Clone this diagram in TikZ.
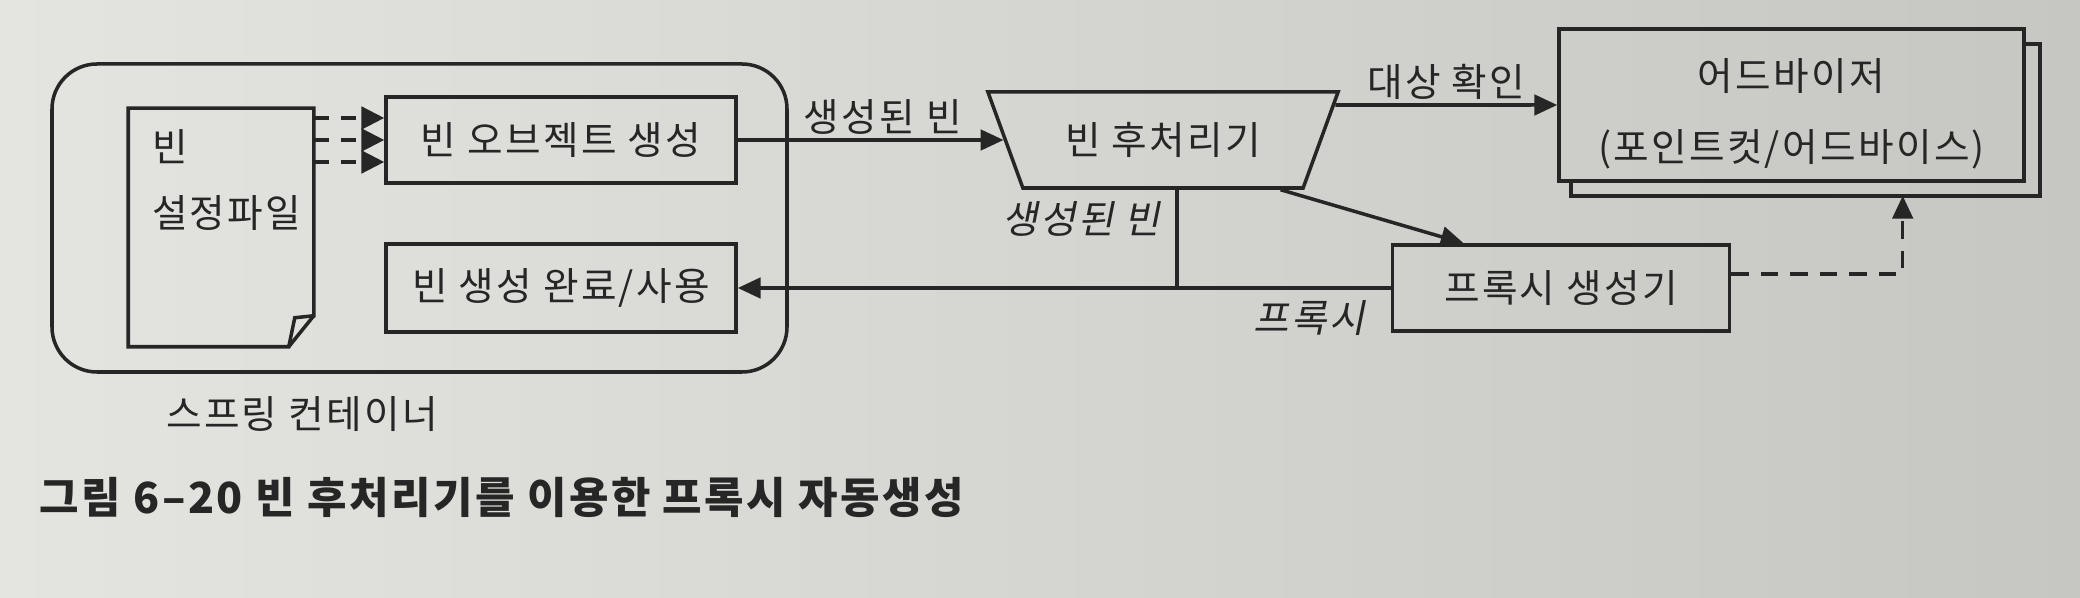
\documentclass[tikz,border=0pt]{standalone}
\usepackage{fontspec}
\setmainfont{Noto Sans CJK KR}[LetterSpace=6]
\newfontfamily\slantkr[FakeSlant=0.2,LetterSpace=6]{Noto Sans CJK KR}
\usetikzlibrary{shapes.geometric,arrows.meta,calc}
\definecolor{ink}{RGB}{38,38,38}
\definecolor{paperl}{RGB}{228,228,224}
\definecolor{paperr}{RGB}{198,198,194}

\begin{document}
\begin{tikzpicture}[
  block/.style={rectangle, draw, minimum width=3.5cm, minimum height=0.86cm},
  trap/.style={trapezium, draw, trapezium left angle=115, trapezium right angle=115,
    trapezium stretches=true, minimum width=3.51cm, minimum height=0.96cm},
  arrow/.style={-{Triangle[length=6.5pt,width=5.8pt]}},
  cfgarrow/.style={dash pattern=on 4.3pt off 3.4pt, -{Triangle[length=6.5pt,width=6.4pt]}},
  dashline/.style={arrow, dash pattern=on 5pt off 3.4pt},
  note/.style={font=\slantkr\fontsize{11}{13.2}\selectfont},
  color=ink, line width=1pt,
  font=\fontsize{11}{13.2}\selectfont
]
\useasboundingbox (0,0) rectangle (20.8,-5.98);
\shade[left color=paperl, right color=paperr] (0,0) rectangle (20.8,-5.98);

% container and its contents
\node[draw, rounded corners=0.45cm, minimum width=7.35cm, minimum height=3.08cm] (cont) at (4.195,-2.18) {};
\node[left of=cont, node distance=1.985cm, yshift=-0.095cm, minimum width=1.82cm, minimum height=2.35cm] (conf) {};
\draw (conf.north west) -- (conf.north east) -- ([yshift=0.31cm]conf.south east) coordinate (foldA)
  -- ([xshift=-0.19cm,yshift=0.29cm]conf.south east) -- ([xshift=-0.25cm]conf.south east) coordinate (foldC)
  -- (conf.south west) -- cycle;
\draw (foldA) -- (foldC);
\node[anchor=north west, align=left, inner sep=0pt] (conftxt) at ([xshift=0.22cm,yshift=-0.2cm]conf.north west) {빈\\[0.19cm]설정파일};
\node[block, right of=conf, node distance=3.4cm, yshift=0.875cm] (obj) {빈 오브젝트 생성};
\node[block, below of=obj, node distance=1.48cm, minimum height=0.88cm] (done) {빈 생성 완료/사용};
\node[below of=cont, node distance=1.96cm, xshift=-1.175cm] (springlbl) {스프링 컨테이너};

% post processor, proxy creator, advisor
\node[trap, right of=obj, node distance=6.02cm] (trap) {빈 후처리기};
\node[block, right of=done, node distance=10cm, minimum width=3.37cm] (proxy) {프록시 생성기};
\node[right of=trap, node distance=6.425cm, yshift=0.2cm, minimum width=4.65cm, minimum height=1.48cm] (advback) {};
\node[block, right of=trap, node distance=6.285cm, yshift=0.35cm, minimum width=4.65cm, minimum height=1.48cm, align=center] (adv) {\rule{0pt}{0.5cm}어드바이저\\[0.245cm](포인트컷/어드바이스)};
\draw (adv.north east |- advback.north) -- (advback.north east) -- (advback.south east)
  -- (advback.south west) -- (advback.west |- adv.south);

\node[anchor=west, font=\fontsize{12.2}{14}\selectfont\bfseries] (caption) at (0.26,-4.97) {그림 6–20 빈 후처리기를 이용한 프록시 자동생성};

% connectors
\foreach \dy in {-0.22,0,0.22}
  \draw[cfgarrow] ([yshift=\dy cm]obj.west -| conf.east) -- ([yshift=\dy cm]obj.west);
\draw[arrow] (obj) -- node[above, inner sep=1pt, xshift=0.12cm] (lblcreated) {생성된 빈} (trap);
\draw[arrow] (intersection of trap.top right corner--trap.bottom right corner and adv.west--adv.east)
  -- node[above, inner sep=1pt] (lblcheck) {대상 확인} (adv.west);
\draw[arrow] ($(trap.bottom left corner)!0.916!(trap.bottom right corner)$) -- ($(proxy.north west)!0.214!(proxy.north east)$);
\draw ([xshift=0.14cm]trap.south) -- ([xshift=0.14cm]trap.south |- done.east);
\node[note, anchor=east] (lblbean) at ([xshift=0.11cm,yshift=-0.29cm]trap.south) {생성된 빈};
\draw[arrow] (proxy) -- (done);
\node[note, anchor=north east] (lblproxy) at ([xshift=-0.12cm,yshift=0.01cm]proxy.west) {프록시};
\draw[dashline] ([yshift=0.14cm]proxy.east) -| ($(advback.south west)!0.7075!(advback.south east)$);
\end{tikzpicture}
\end{document}
